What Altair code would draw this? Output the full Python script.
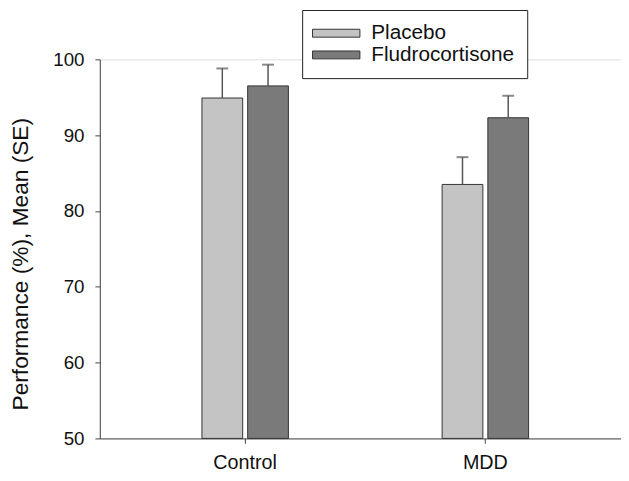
import altair as alt
import pandas as pd

groups = ["Control", "Control", "MDD", "MDD"]
treatments = ["Placebo", "Fludrocortisone", "Placebo", "Fludrocortisone"]
means = [94.9, 96.5, 83.5, 92.3]
ses = [3.9, 2.8, 3.6, 2.9]

df = pd.DataFrame({"group": groups, "treatment": treatments, "mean": means, "se": ses})
df["upper"] = df["mean"] + df["se"]

order = ["Placebo", "Fludrocortisone"]

x = alt.X("group:N", title=None, sort=["Control", "MDD"],
          scale=alt.Scale(paddingInner=0.64, paddingOuter=0.405, align=0.525),
          axis=alt.Axis(labelAngle=0, tickSize=5, labelPadding=9, labelFontSize=20,
                        domainColor="#444", tickColor="#444", labelColor="#111"))
xo = alt.XOffset("treatment:N", sort=order,
                 scale=alt.Scale(paddingInner=0.109, paddingOuter=0))
y = alt.Y("mean:Q", title="Performance (%), Mean (SE)",
          scale=alt.Scale(domain=[50, 100], nice=False, zero=False),
          axis=alt.Axis(values=[50, 60, 70, 80, 90, 100], tickSize=5, labelPadding=11,
                        labelFontSize=19, grid=False, domainColor="#444", tickColor="#444",
                        labelColor="#111", titleFontSize=23, titleFontWeight="normal",
                        titleColor="#111", titleX=-80, titleY=207, titleAlign="center",
                        titleBaseline="middle", titleAngle=270))

color = alt.Color("treatment:N", sort=order, title=None,
                  scale=alt.Scale(domain=order, range=["#c4c4c4", "#7a7a7a"]),
                  legend=alt.Legend(orient="none", legendX=205, legendY=-50,
                                    symbolType="M-3.25,-1L8.75,-1L8.75,1L-3.25,1Z",
                                    symbolSize=64, symbolStrokeColor="#333",
                                    symbolStrokeWidth=1, labelFontSize=21, labelColor="#111",
                                    strokeColor="#222", padding=13, fillColor="white",
                                    rowPadding=0, labelOffset=36))

base = alt.Chart(df)

bars = base.mark_bar(stroke="#333", strokeWidth=1).encode(
    x=x, xOffset=xo, y=y, y2=alt.datum(50), color=color)
rules = base.mark_rule(color="#555", strokeWidth=1.5).encode(
    x=x, xOffset=xo, y=alt.Y("mean:Q"), y2="upper:Q")
caps = base.mark_tick(color="#555", size=12, thickness=2).encode(
    x=x, xOffset=xo, y=alt.Y("upper:Q"))

chart = alt.layer(bars, rules, caps).properties(
    width=528, height=384,
    autosize=alt.AutoSizeParams(type="none"),
    padding={"left": 93, "top": 49, "right": 0, "bottom": 32},
).configure_view(strokeWidth=0, stroke="transparent").configure_axis(grid=False).configure(
    font="Liberation Sans")

chart.save("out.html", embed_options={"renderer": "svg", "actions": False})
